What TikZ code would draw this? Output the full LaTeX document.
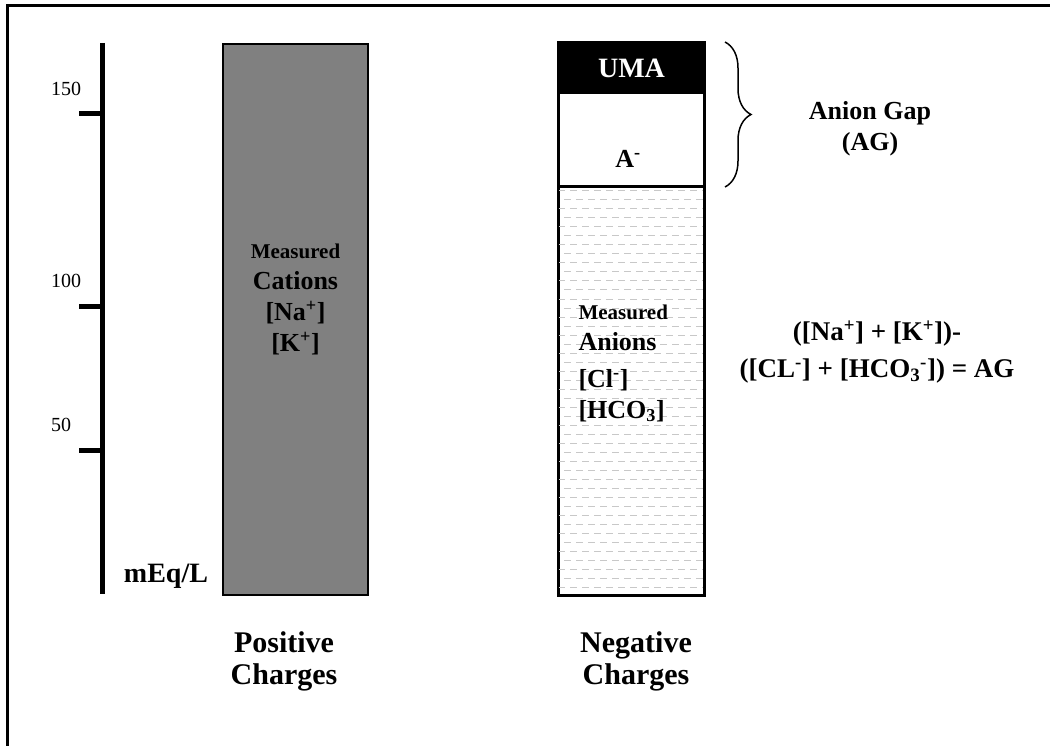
\documentclass[tikz,border=0pt]{standalone}
\usepackage{fontspec}
\setmainfont{Liberation Serif}
\usetikzlibrary{positioning,decorations.pathreplacing}
\definecolor{bargray}{RGB}{128,128,128}
\definecolor{dashgray}{RGB}{200,200,200}
\tikzset{
  big/.style={font=\bfseries\fontsize{26}{31}\selectfont},
  title/.style={font=\bfseries\fontsize{30}{32}\selectfont, align=center},
  scalenum/.style={font=\fontsize{20}{22}\selectfont, inner sep=0pt},
  column/.style={draw=black, line width=2pt, inner sep=0pt, anchor=north west, minimum width=145},
  axisline/.style={line width=5pt}
}
\newcommand{\meas}{\fontsize{21}{22}\selectfont Measured}

\begin{document}
\begin{tikzpicture}[x=1pt,y=-1pt]
\useasboundingbox (0,0) rectangle (1050,746);
% frame (only top and left edges show)
\draw[line width=3pt] (7,746) |- (1050,6);

% scale
\coordinate (atop) at (102.5,43);
\coordinate (abot) at (102.5,594);
\draw[axisline] (atop) -- (abot);
\foreach \y/\v in {114/150, 306/100, 450/50} {
  \coordinate (k\v) at (102.5,\y);
  \draw[axisline] (k\v) -- ++(-24,0);
  \node[scalenum, anchor=west] (n\v) at (51,\y-25) {\v};
}
\node[big, font=\bfseries\fontsize{28}{31}\selectfont] (unit) at (166,576) {mEq/L};

% positive column
\node[column, fill=bargray, minimum height=551] (cat) at (222,43) {};
\node[big, align=center, anchor=north] (catlbl) at (cat.north |- 0,240)
  {{\meas}\\Cations\\{}[Na\textsuperscript{+}]\\{}[K\textsuperscript{+}]};

% negative column
\node[column, fill=black, minimum height=50] (uma) at (558,42) {};
\node[column, fill=white, minimum height=94] (gap) at (558,92) {};
\node[column, minimum height=408] (ani) at (558,186) {};
\begin{scope}
  \clip ([xshift=1pt,yshift=-1pt]ani.north west) rectangle ([xshift=-1pt,yshift=1pt]ani.south east);
  \foreach \i [evaluate=\i as \ph using {6*mod(\i,2)}] in {0,...,45}
    \draw[dashgray, line width=1pt, dash pattern=on 7pt off 5pt, dash phase=\ph pt]
      (558,191+9*\i) -- (703,191+9*\i);
\end{scope}
\draw[line width=2pt] (uma.north west) rectangle (ani.south east);
\draw[line width=2pt] (gap.north west) -- (gap.north east);
\draw[line width=2pt] (ani.north west) -- (ani.north east);
\node[big, white, font=\bfseries\fontsize{28}{31}\selectfont] (umalbl) at (uma.center) {UMA};
\node[big] (alb) at (628,159) {A\textsuperscript{-}};
\node[big, align=left, anchor=north west] (anilbl) at (575,301)
  {{\meas}\\Anions\\[6pt]{}[Cl\textsuperscript{-}]\\{}[HCO\textsubscript{3}]};

% anion gap brace
\coordinate (gtop) at (725,42);
\coordinate (gbot) at (725,187);
\draw[line width=1.5pt, decorate, decoration={brace, amplitude=26pt}] (gtop) -- (gbot);
\node[big, align=center] (aglbl) at (870,129) {Anion Gap\\(AG)};

% formula
\node[big, align=center, font=\bfseries\fontsize{27}{37}\selectfont] (form) at (877,352)
  {([Na\textsuperscript{+}] + [K\textsuperscript{+}])-\\{}([CL\textsuperscript{-}] + [HCO\textsubscript{3}\textsuperscript{-}]) = AG};

% column titles
\node[title] (pos) at (284,661) {Positive\\Charges};
\node[title] (neg) at (636,661) {Negative\\Charges};
\end{tikzpicture}
\end{document}
